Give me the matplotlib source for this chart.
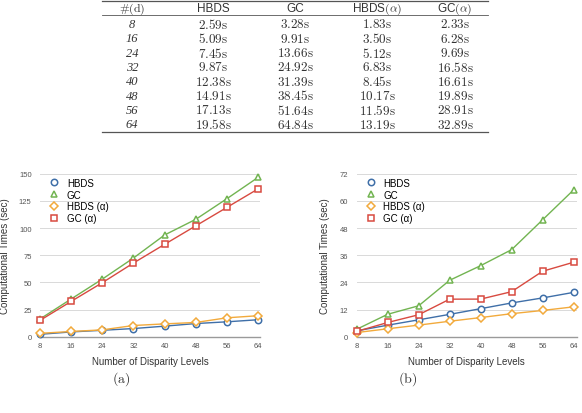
import matplotlib.pyplot as plt
from matplotlib.lines import Line2D

plt.rcParams['mathtext.fontset'] = 'cm'
plt.rcParams['font.family'] = ['Liberation Sans', 'DejaVu Sans']

# table data
levels = [8, 16, 24, 32, 40, 48, 56, 64]
hbds = [2.59, 5.09, 7.45, 9.87, 12.38, 14.91, 17.13, 19.58]
gc = [3.28, 9.91, 13.66, 24.92, 31.39, 38.45, 51.64, 64.84]
hbds_a = [1.83, 3.50, 5.12, 6.83, 8.45, 10.17, 11.59, 13.19]
gc_a = [2.33, 6.28, 9.69, 16.58, 16.61, 19.89, 28.91, 32.89]

# chart (a) values
hbds_1 = [2.2, 4.4, 5.9, 7.5, 9.7, 12.1, 13.7, 15.6]
gc_1 = [16.3, 34.7, 53.0, 72.4, 93.6, 108.0, 127.0, 146.6]
hbds_a_1 = [3.1, 4.8, 6.3, 10.3, 11.8, 13.1, 17.4, 19.3]
gc_a_1 = [15.0, 32.5, 49.7, 67.8, 85.0, 102.0, 119.0, 136.0]

names = ['HBDS', 'GC', r'HBDS (α)', r'GC (α)']
colors = ['#3f6fa8', '#72b451', '#f2aa3c', '#d84a40']
markers = ['o', '^', 'D', 's']

fig = plt.figure(figsize=(5.82, 4.14), dpi=100)
W, H = 582, 414

# ---- table ----
def fy(y):
    return 1 - y / H

for y, lw in [(1.5, 0.9), (16, 0.6), (133, 0.9)]:
    fig.add_artist(Line2D([102 / W, 488 / W], [fy(y), fy(y)], color='#555555', lw=lw))

col_x = [132, 213, 295, 377, 455]
headers = [r'$\#(\mathrm{d})$', 'HBDS', 'GC', r'HBDS$(\alpha)$', r'GC$(\alpha)$']
for x, h in zip(col_x, headers):
    fig.text(x / W, fy(9), h, ha='center', va='center', fontsize=8.5, color='#333333')

for i, d in enumerate(levels):
    y = fy(25 + i * 14.3)
    fig.text(col_x[0] / W, y, str(d), ha='center', va='center',
             fontsize=9, family='Liberation Serif', style='italic', color='#333333')
    for x, v in zip(col_x[1:], [hbds[i], gc[i], hbds_a[i], gc_a[i]]):
        fig.text(x / W, y, r'$\mathrm{%.2fs}$' % v, ha='center', va='center',
                 fontsize=9.5, color='#333333')

# ---- charts ----
def draw(ax, series, ymax, step, xmax):
    for vals, name, c, m in zip(series, names, colors, markers):
        ms = 4.6 if m != 'D' else 4.0
        ax.plot(levels, vals, color=c, lw=1.0, marker=m, markersize=ms,
                markerfacecolor='white', markeredgecolor=c, markeredgewidth=1.1,
                label=name, clip_on=False, zorder=3)
    ax.set_xlim(8, xmax)
    ax.set_ylim(0, ymax)
    ax.set_xticks(levels)
    ax.set_yticks(range(0, ymax + 1, step))
    for s in ['top', 'right', 'left']:
        ax.spines[s].set_visible(False)
    ax.spines['bottom'].set_color('#9a9a9a')
    ax.spines['bottom'].set_linewidth(1.0)
    ax.grid(axis='y', color='#d9d9d9', lw=0.7)
    ax.set_axisbelow(True)
    ax.tick_params(length=0, labelsize=5.5, colors='#555555')
    ax.tick_params(axis='y', pad=6)
    ax.tick_params(axis='x', pad=4)
    ax.set_xlabel('Number of Disparity Levels', fontsize=7, color='#333333')
    ax.set_ylabel('Computational Times (sec)', fontsize=7, color='#333333')
    ax.xaxis.set_label_coords(0.5, -0.12)
    leg = ax.legend(loc='upper left', bbox_to_anchor=(0.02, 1.0), frameon=False,
                    borderaxespad=0, prop={'size': 7},
                    handlelength=1.2, handletextpad=0.7, labelspacing=0.2)
    for h in leg.legend_handles:
        h.set_linestyle('none')

ax1 = fig.add_axes([40 / W, fy(337.7), 220 / W, 163 / H])
draw(ax1, [hbds_1, gc_1, hbds_a_1, gc_a_1], 150, 25, 64.5)
ax1.yaxis.set_label_coords(-0.135, 0.5)

ax2 = fig.add_axes([356.7 / W, fy(337.7), 220 / W, 163 / H])
draw(ax2, [hbds, gc, hbds_a, gc_a], 72, 12, 64.8)
ax2.yaxis.set_label_coords(-0.12, 0.5)

fig.text(121 / W, fy(379), r'$\mathrm{(a)}$', ha='center', va='center', fontsize=10,
         color='#333333')
fig.text(408 / W, fy(379), r'$\mathrm{(b)}$', ha='center', va='center', fontsize=10,
         color='#333333')

fig.savefig('out.png', dpi=100)
